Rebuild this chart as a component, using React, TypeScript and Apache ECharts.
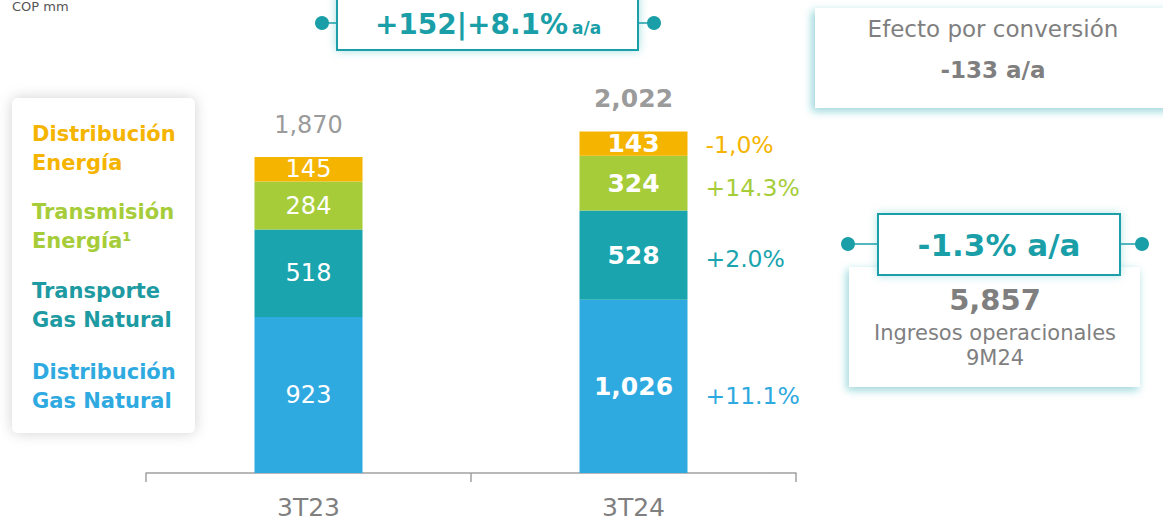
import React, { useEffect, useRef } from "react";
import * as echarts from "echarts";

const categories = ["3T23", "3T24"];
const distGas = [923, 1026];
const transGas = [518, 528];
const transEnergy = [284, 324];
const distEnergy = [145, 143];
const totals = [1870, 2022];
const pctDistGas = "+11.1%";
const pctTransGas = "+2.0%";
const pctTransEnergy = "+14.3%";
const pctDistEnergy = "-1,0%";
const legendNames = [
  ["Distribución", "Energía"],
  ["Transmisión", "Energía¹"],
  ["Transporte", "Gas Natural"],
  ["Distribución", "Gas Natural"],
];

const FONT = "'DejaVu Sans', sans-serif";
const GRAY = "#7f7f7f";
const TEAL = "#1a9fa8";
const C_BLUE = "#2eaae1";
const C_TEAL = "#19a4ae";
const C_GREEN = "#a6cd39";
const C_ORANGE = "#f5b400";
const LEG_COLORS = [C_ORANGE, C_GREEN, "#1e9aa2", C_BLUE];

function fmt(v: number) {
  return v.toLocaleString("en-US");
}

export default function App() {
  const ref = useRef<HTMLDivElement>(null);
  useEffect(() => {
    if (!ref.current) return;
    const chart = echarts.init(ref.current, undefined, { renderer: "svg" });

    const segs = [
      { name: "Distribución Gas Natural", data: distGas, color: C_BLUE, pct: pctDistGas, off: 10 },
      { name: "Transporte Gas Natural", data: transGas, color: C_TEAL, pct: pctTransGas, off: 4 },
      { name: "Transmisión Energía", data: transEnergy, color: C_GREEN, pct: pctTransEnergy, off: 5 },
      { name: "Distribución Energía", data: distEnergy, color: C_ORANGE, pct: pctDistEnergy, off: 1 },
    ];

    const series: any[] = [];
    segs.forEach((s) => {
      series.push({
        type: "bar",
        name: s.name,
        stack: "main",
        barWidth: 108,
        barGap: "-100%",
        itemStyle: { color: s.color },
        data: s.data.map((v, i) => ({
          value: v,
          label: { fontWeight: i === 1 ? "bold" : "normal", fontSize: i === 1 ? 25 : 24 },
        })),
        label: {
          show: true,
          position: "inside",
          color: "#fff",
          fontSize: 24,
          fontFamily: FONT,
          formatter: (p: any) => fmt(p.value),
        },
      });
    });
    segs.forEach((s) => {
      series.push({
        type: "bar",
        name: s.name + " var",
        stack: "pct",
        barWidth: 108,
        barGap: "-100%",
        silent: true,
        itemStyle: { color: "rgba(0,0,0,0)" },
        data: s.data.map((v, i) => ({
          value: v,
          label: { show: i === 1 },
        })),
        label: {
          show: true,
          position: "right",
          distance: 18,
          offset: [0, s.off],
          color: s.color,
          fontSize: 23.5,
          fontFamily: FONT,
          formatter: () => s.pct,
        },
      });
    });
    series.push({
      type: "scatter",
      name: "Total",
      symbolSize: 0,
      data: totals.map((v, i) => ({
        value: v,
        label: { fontWeight: i === 1 ? "bold" : "normal", fontSize: i === 1 ? 25 : 24 },
      })),
      label: {
        show: true,
        position: "top",
        distance: 20,
        color: GRAY,
        fontSize: 24,
        fontFamily: FONT,
        formatter: (p: any) => fmt(p.value),
      },
    });

    const graphic: any[] = [];
    graphic.push({
      type: "text",
      left: 12,
      top: 0,
      style: { text: "COP mm", fontSize: 13, fontFamily: FONT, fill: "#555" },
    });
    // legend box
    graphic.push({
      type: "rect",
      shape: { x: 12, y: 98, width: 183, height: 335, r: 6 },
      style: { fill: "#fff", shadowBlur: 14, shadowColor: "rgba(0,0,0,0.18)" },
      z: 0,
    });
    const legY = [134, 212, 291, 372];
    legendNames.forEach((lines, i) => {
      lines.forEach((t, j) => {
        graphic.push({
          type: "text",
          x: 32,
          y: legY[i] + j * 28.5,
          style: {
            text: t,
            fill: LEG_COLORS[i],
            fontSize: 21,
            fontWeight: "bold",
            fontFamily: FONT,
            verticalAlign: "middle",
            align: "left",
          },
        });
      });
    });

    // top box
    graphic.push({ type: "line", shape: { x1: 322, y1: 23, x2: 338, y2: 23 }, style: { stroke: TEAL, lineWidth: 1.5 } });
    graphic.push({ type: "line", shape: { x1: 637, y1: 23, x2: 654, y2: 23 }, style: { stroke: TEAL, lineWidth: 1.5 } });
    graphic.push({ type: "circle", shape: { cx: 322, cy: 23, r: 7 }, style: { fill: TEAL } });
    graphic.push({ type: "circle", shape: { cx: 654, cy: 23, r: 7 }, style: { fill: TEAL } });
    graphic.push({
      type: "rect",
      shape: { x: 337, y: -6, width: 301, height: 56 },
      style: { fill: "#fff", stroke: TEAL, lineWidth: 2, shadowBlur: 10, shadowColor: "rgba(26,159,168,0.35)" },
    });
    graphic.push({
      type: "text",
      x: 488,
      y: 24,
      style: {
        text: "{a|+152|+8.1%} {b|a/a}",
        align: "center",
        verticalAlign: "middle",
        fontFamily: FONT,
        rich: {
          a: { fontSize: 28, fontWeight: "bold", fill: TEAL, fontFamily: FONT },
          b: { fontSize: 17, fontWeight: "bold", fill: TEAL, fontFamily: FONT, padding: [8, 0, 0, 0] },
        },
      },
    });

    // efecto box
    graphic.push({
      type: "rect",
      shape: { x: 815, y: 8, width: 360, height: 100 },
      style: { fill: "#fff", shadowBlur: 8, shadowOffsetX: -3, shadowOffsetY: 3, shadowColor: "rgba(26,159,168,0.45)" },
    });
    graphic.push({
      type: "text",
      x: 993,
      y: 29,
      style: { text: "Efecto por conversión", align: "center", verticalAlign: "middle", fontSize: 23, fontFamily: FONT, fill: GRAY },
    });
    graphic.push({
      type: "text",
      x: 993,
      y: 70,
      style: { text: "-133 a/a", align: "center", verticalAlign: "middle", fontSize: 23, fontWeight: "bold", fontFamily: FONT, fill: GRAY },
    });

    // 5,857 box
    graphic.push({
      type: "rect",
      shape: { x: 849, y: 267, width: 291, height: 120 },
      style: { fill: "#fff", shadowBlur: 8, shadowOffsetX: -2, shadowOffsetY: 3, shadowColor: "rgba(26,159,168,0.45)" },
    });
    graphic.push({ type: "line", shape: { x1: 848, y1: 244, x2: 879, y2: 244 }, style: { stroke: TEAL, lineWidth: 1.5 } });
    graphic.push({ type: "line", shape: { x1: 1119, y1: 244, x2: 1142, y2: 244 }, style: { stroke: TEAL, lineWidth: 1.5 } });
    graphic.push({ type: "circle", shape: { cx: 848, cy: 244, r: 7 }, style: { fill: TEAL } });
    graphic.push({ type: "circle", shape: { cx: 1142, cy: 244, r: 7 }, style: { fill: TEAL } });
    graphic.push({
      type: "rect",
      shape: { x: 878, y: 214, width: 242, height: 61 },
      style: { fill: "#fff", stroke: TEAL, lineWidth: 2, shadowBlur: 8, shadowColor: "rgba(26,159,168,0.3)" },
    });
    graphic.push({
      type: "text",
      x: 999,
      y: 245,
      style: { text: "-1.3% a/a", align: "center", verticalAlign: "middle", fontSize: 31, fontWeight: "bold", fontFamily: FONT, fill: TEAL },
    });
    graphic.push({
      type: "text",
      x: 995,
      y: 300,
      style: { text: "5,857", align: "center", verticalAlign: "middle", fontSize: 29, fontWeight: "bold", fontFamily: FONT, fill: GRAY },
    });
    graphic.push({
      type: "text",
      x: 995,
      y: 333,
      style: { text: "Ingresos operacionales", align: "center", verticalAlign: "middle", fontSize: 21, fontFamily: FONT, fill: GRAY },
    });
    graphic.push({
      type: "text",
      x: 995,
      y: 358,
      style: { text: "9M24", align: "center", verticalAlign: "middle", fontSize: 21, fontFamily: FONT, fill: GRAY },
    });

    chart.setOption({
      animation: false,
      backgroundColor: "#fff",
      grid: { left: 146, right: 367, top: 0, bottom: 54, containLabel: false },
      xAxis: {
        type: "category",
        data: categories,
        axisLine: { lineStyle: { color: "#a0a0a0", width: 1.5 } },
        axisTick: { show: true, length: 9, lineStyle: { color: "#a0a0a0", width: 1.5 } },
        axisLabel: { color: GRAY, fontSize: 25, fontFamily: FONT, margin: 22 },
      },
      yAxis: {
        type: "value",
        min: 0,
        max: 2800,
        show: false,
        splitLine: { show: false },
      },
      series,
      graphic,
    });
    return () => chart.dispose();
  }, []);
  return (
    <div
      ref={ref}
      style={{ position: "fixed", left: 0, top: 0, width: 1163, height: 527 }}
    />
  );
}
